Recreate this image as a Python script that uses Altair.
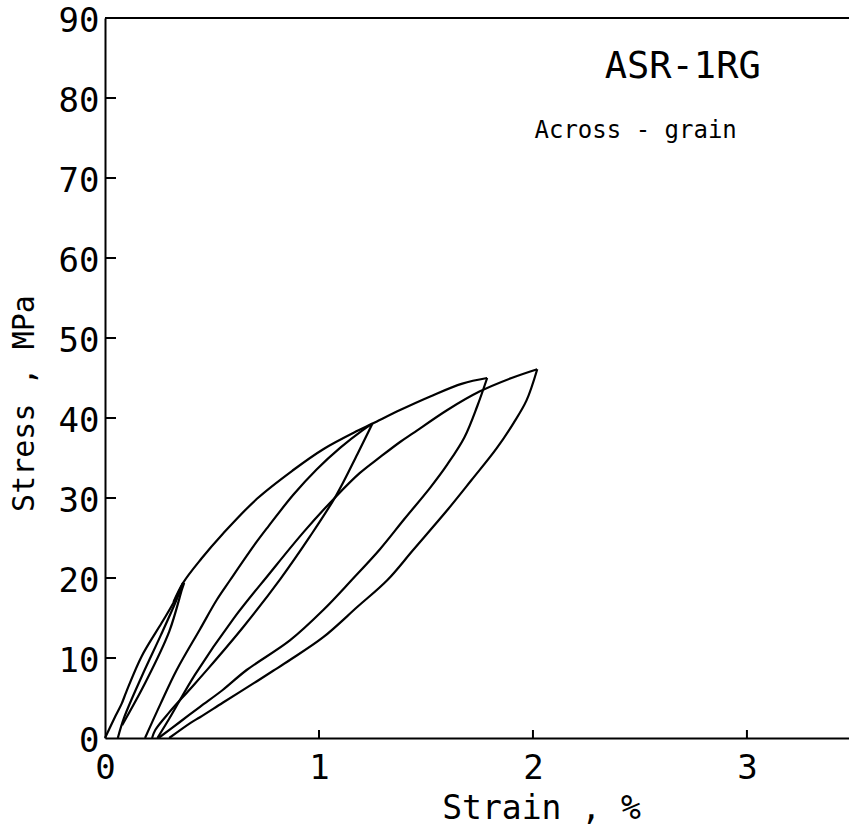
import altair as alt
import pandas as pd

# ---------------- data (strain %, stress MPa) ----------------
load0_strain = [0.0, 0.05, 0.078, 0.10, 0.171, 0.265, 0.32, 0.365]
load0_stress = [0.0, 2.8, 4.3, 5.8, 10.2, 14.4, 16.9, 19.4]

unload0_strain = [0.365, 0.33, 0.26, 0.17, 0.09, 0.06]
unload0_stress = [19.4, 17.0, 12.8, 7.6, 2.6, 0.0]

reload0_strain = [0.08, 0.19, 0.30, 0.36, 0.37]
reload0_stress = [1.6, 7.0, 13.3, 18.6, 19.4]

envelope_strain = [0.32, 0.365, 0.45, 0.55, 0.71, 0.88, 1.02, 1.18, 1.25, 1.379, 1.52, 1.67, 1.786]
envelope_stress = [17.0, 19.4, 22.4, 25.5, 29.9, 33.5, 36.1, 38.4, 39.3, 41.0, 42.7, 44.3, 45.0]

unload1_strain = [1.25, 1.18, 1.08, 0.958, 0.82, 0.65, 0.483, 0.397, 0.30, 0.235, 0.22]
unload1_stress = [39.3, 35.5, 30.3, 25.2, 19.9, 14.0, 8.7, 6.1, 3.2, 1.0, 0.0]

reload1_strain = [0.187, 0.26, 0.335, 0.444, 0.522, 0.585, 0.70, 0.762, 0.88, 0.99, 1.10, 1.20, 1.25]
reload1_stress = [0.0, 4.3, 8.5, 13.6, 17.25, 19.75, 24.2, 26.4, 30.4, 33.6, 36.3, 38.4, 39.3]

unload2_strain = [1.786, 1.74, 1.68, 1.60, 1.52, 1.40, 1.285, 1.153, 1.02, 0.864, 0.662, 0.55, 0.444, 0.35, 0.25]
unload2_stress = [45.0, 41.5, 37.6, 34.2, 31.3, 27.4, 23.6, 19.75, 16.0, 12.2, 8.5, 6.0, 3.9, 2.0, 0.0]

reload2_strain = [0.245, 0.30, 0.42, 0.60, 0.77, 0.93, 1.08, 1.19, 1.285, 1.379, 1.44, 1.60, 1.75, 1.90, 2.02]
reload2_stress = [0.0, 2.4, 7.9, 14.9, 20.6, 25.8, 30.2, 33.1, 35.1, 37.0, 38.1, 41.0, 43.3, 45.0, 46.1]

unload3_strain = [2.02, 1.97, 1.91, 1.83, 1.713, 1.60, 1.44, 1.32, 1.18, 1.02, 0.864, 0.786, 0.71, 0.55, 0.444, 0.40, 0.30]
unload3_stress = [46.1, 42.2, 39.4, 36.2, 32.25, 28.5, 23.5, 19.75, 16.4, 12.6, 9.75, 8.4, 7.1, 4.4, 2.6, 1.9, 0.0]

x_tick_values = [0, 1, 2, 3]
y_tick_values = [0, 10, 20, 30, 40, 50, 60, 70, 80, 90]
y_inner_ticks = [10, 20, 30, 40, 50, 60, 70, 80]
x_inner_ticks = [1, 2, 3]

labels_text = ["ASR-1RG", "Across - grain"]
labels_x = [2.70, 2.48]
labels_y = [83.9, 75.9]

# ---------------- build tables ----------------
branches = [
    ("load0", load0_strain, load0_stress),
    ("unload0", unload0_strain, unload0_stress),
    ("reload0", reload0_strain, reload0_stress),
    ("envelope", envelope_strain, envelope_stress),
    ("unload1", unload1_strain, unload1_stress),
    ("reload1", reload1_strain, reload1_stress),
    ("unload2", unload2_strain, unload2_stress),
    ("reload2", reload2_strain, reload2_stress),
    ("unload3", unload3_strain, unload3_stress),
]
rows = []
for name, xs, ys in branches:
    for i, (xv, yv) in enumerate(zip(xs, ys)):
        rows.append({"branch": name, "order": i, "strain": xv, "stress": yv})
df = pd.DataFrame(rows)

W, H = 744, 720
FONT = "DejaVu Sans Mono"
x_scale = alt.Scale(domain=[0, 3.477], nice=False, zero=False)
y_scale = alt.Scale(domain=[0, 90], nice=False, zero=False)

x_axis = alt.Axis(
    values=x_tick_values, title="Strain , %", grid=False, ticks=False, tickSize=0,
    domainColor="black", domainWidth=2,
    labelFont=FONT, labelFontSize=34, labelColor="black", labelPadding=13,
    labelFlush=False, labelOverlap=False,
    titleFont=FONT, titleFontSize=33, titleFontWeight="normal", titleColor="black",
    titleX=436, titleY=80, titleAlign="center", titleBaseline="alphabetic",
)
y_axis = alt.Axis(
    values=y_tick_values, title="Stress , MPa", grid=False, ticks=False, tickSize=0,
    domainColor="black", domainWidth=2,
    labelFont=FONT, labelFontSize=34, labelColor="black", labelPadding=6,
    labelOffset=3, labelFlush=False, labelOverlap=False,
    titleFont=FONT, titleFontSize=30, titleFontWeight="normal", titleColor="black",
    titleX=-72, titleY=385, titleAngle=270, titleAlign="center", titleBaseline="alphabetic",
)

def X():
    return alt.X("strain:Q", scale=x_scale, axis=x_axis)

def Y():
    return alt.Y("stress:Q", scale=y_scale, axis=y_axis)

lines = alt.Chart(df).mark_line(
    color="black", strokeWidth=2.2, interpolate="catmull-rom"
).encode(x=X(), y=Y(), detail="branch:N", order="order:Q")

top_border = alt.Chart(pd.DataFrame({"a": [0]})).mark_rule(color="black", strokeWidth=2).encode(
    x=alt.value(0), x2=alt.value(W), y=alt.value(0)
)

yticks = alt.Chart(pd.DataFrame({"stress": y_inner_ticks})).mark_rule(
    color="black", strokeWidth=2
).encode(y=Y(), x=alt.value(0), x2=alt.value(11))

xticks = alt.Chart(pd.DataFrame({"strain": x_inner_ticks})).mark_rule(
    color="black", strokeWidth=2
).encode(x=X(), y=alt.value(H), y2=alt.value(H - 8))

lab_df = pd.DataFrame({"t": labels_text, "strain": labels_x, "stress": labels_y})
title_txt = alt.Chart(lab_df.iloc[[0]]).mark_text(
    font=FONT, fontSize=37, color="black", align="center", baseline="middle"
).encode(x=X(), y=Y(), text="t:N")
sub_txt = alt.Chart(lab_df.iloc[[1]]).mark_text(
    font=FONT, fontSize=24, color="black", align="center", baseline="middle"
).encode(x=X(), y=Y(), text="t:N")

chart = alt.layer(lines, top_border, yticks, xticks, title_txt, sub_txt).properties(
    width=W, height=H,
    autosize=alt.AutoSizeParams(type="none"),
    padding={"left": 105, "top": 18, "right": 0, "bottom": 94},
    background="white",
).configure_view(stroke=None)

chart.save("out.html", embed_options={"renderer": "svg", "actions": False})
